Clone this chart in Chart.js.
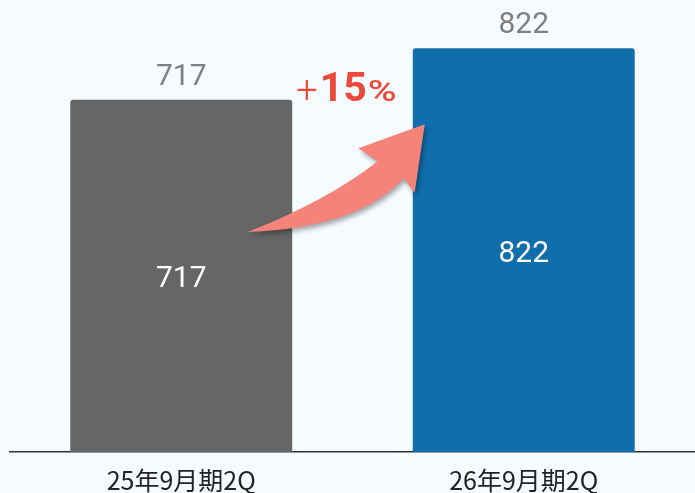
<!DOCTYPE html>
<html>
<head>
<meta charset="utf-8">
<script src="https://cdn.jsdelivr.net/npm/chart.js@4/dist/chart.umd.min.js"></script>
<style>
  html, body { margin: 0; padding: 0; background: #f5fbfe; }
  canvas { display: block; }
</style>
</head>
<body>
<canvas id="c" width="695" height="493"></canvas>
<script>
// Period labels and values
const periods = ['25年9月期2Q', '26年9月期2Q'];
const values = [717, 822];
const barColors = ['#666666', '#0f6eab'];
const growthLabel = ['+', '15', '%'];

// Value labels above and inside each bar
const valueLabels = {
  id: 'valueLabels',
  afterDatasetsDraw(chart) {
    const ctx = chart.ctx;
    const meta = chart.getDatasetMeta(0);
    ctx.save();
    ctx.textAlign = 'center';
    ctx.textBaseline = 'alphabetic';
    ctx.font = '30px Roboto';
    meta.data.forEach((bar, i) => {
      const v = String(chart.data.datasets[0].data[i]);
      ctx.fillStyle = '#808080';
      ctx.fillText(v, bar.x, bar.y - 15);
      ctx.fillStyle = '#ffffff';
      ctx.fillText(v, bar.x, (bar.y + bar.base) / 2 + 11.5);
    });
    ctx.restore();
  }
};

// Curved growth arrow and percentage between the two bars
const growthArrow = {
  id: 'growthArrow',
  afterDatasetsDraw(chart) {
    const ctx = chart.ctx;
    const meta = chart.getDatasetMeta(0);
    const a = meta.data[0], b = meta.data[1];
    const wa = a.width, wb = b.width;
    const tail = { x: a.x + 0.3 * wa, y: a.y + 0.375 * (a.base - a.y) };
    const tip = { x: b.x - wb / 2 + 0.054 * wb, y: b.y + 0.188 * (b.base - b.y) };
    const dx = tip.x - tail.x, dy = tip.y - tail.y;
    const p = (u, v) => [tail.x + u * dx, tail.y + v * dy];

    ctx.save();
    ctx.shadowColor = 'rgba(0,0,0,0.35)';
    ctx.shadowBlur = 5;
    ctx.shadowOffsetX = 2;
    ctx.shadowOffsetY = 3;
    ctx.fillStyle = '#f6837a';
    ctx.beginPath();
    ctx.moveTo(...p(0, 0));
    ctx.quadraticCurveTo(...p(0.608, 0.028), ...p(0.881, 0.495));
    ctx.lineTo(...p(0.943, 0.364));
    ctx.lineTo(...p(1, 1));
    ctx.lineTo(...p(0.625, 0.776));
    ctx.lineTo(...p(0.733, 0.654));
    ctx.quadraticCurveTo(...p(0.449, 0.290), ...p(0, 0));
    ctx.closePath();
    ctx.fill();
    ctx.restore();

    // "+15%" label: thin plus, bold figures, wide percent sign
    ctx.save();
    ctx.fillStyle = '#ea4a3b';
    ctx.textBaseline = 'alphabetic';
    ctx.textAlign = 'left';
    const fonts = ['300 38px Roboto', 'bold 41px Roboto', '500 29px Roboto'];
    const stretch = [1, 1, 1.35];
    const gaps = [2, 1, 0];
    let total = 0;
    const widths = growthLabel.map((t, i) => {
      ctx.font = fonts[i];
      const w = ctx.measureText(t).width * stretch[i];
      total += w + gaps[i];
      return w;
    });
    const cx = (a.x + wa / 2 + b.x - wb / 2) / 2 - 6;
    let x = cx - total / 2;
    const baseline = a.y + 1;
    growthLabel.forEach((t, i) => {
      ctx.font = fonts[i];
      ctx.save();
      ctx.translate(x, baseline + (i === 0 ? 2 : 0));
      ctx.scale(stretch[i], 1);
      ctx.fillText(t, 0, 0);
      ctx.restore();
      x += widths[i] + gaps[i];
    });
    ctx.restore();
  }
};

new Chart(document.getElementById('c'), {
  type: 'bar',
  data: {
    labels: periods,
    datasets: [{
      data: values,
      backgroundColor: barColors,
      borderRadius: 3,
      borderSkipped: 'bottom',
      barPercentage: 0.648,
      categoryPercentage: 1
    }]
  },
  options: {
    responsive: false,
    animation: false,
    devicePixelRatio: 1,
    layout: { padding: { top: 10, left: 10, right: 0, bottom: -16 } },
    plugins: {
      legend: { display: false },
      tooltip: { enabled: false }
    },
    scales: {
      x: {
        grid: { display: false, drawTicks: false },
        border: { display: true, color: '#333333', width: 1.5 },
        ticks: {
          color: '#222222',
          padding: 16,
          maxRotation: 0,
          font: { family: '"Noto Sans CJK JP"', size: 25, lineHeight: 1 }
        }
      },
      y: {
        display: false,
        min: 0,
        max: 900
      }
    }
  },
  plugins: [valueLabels, growthArrow]
});
</script>
</body>
</html>
